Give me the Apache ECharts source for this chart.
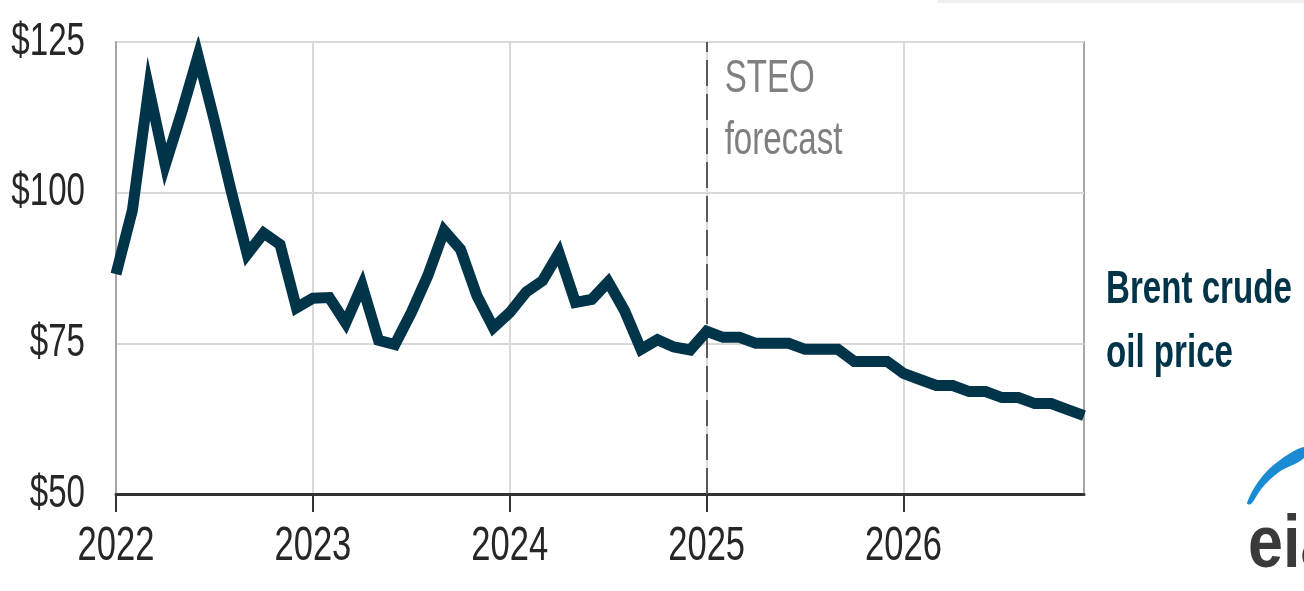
<!DOCTYPE html>
<html>
<head>
<meta charset="utf-8">
<script src="https://cdn.jsdelivr.net/npm/echarts@6/dist/echarts.min.js"></script>
<style>
  html, body { margin: 0; padding: 0; background: #ffffff; }
  #chart { width: 1304px; height: 591px; }
</style>
</head>
<body>
<div id="chart"></div>
<script>
// Monthly Brent crude oil spot price, $ per barrel
const years = ['2022', '2023', '2024', '2025', '2026'];
const history = [
  86.5, 97.1, 117.3, 104.6, 113.3, 122.7, 111.9, 100.5, 89.8, 93.3, 91.4, 80.9,
  82.5, 82.6, 78.4, 84.6, 75.5, 74.8, 80.1, 86.2, 93.7, 90.6, 82.9, 77.6,
  80.1, 83.5, 85.4, 90.0, 81.8, 82.3, 85.2, 80.4, 74.0, 75.6, 74.4, 73.9
];
// Short-Term Energy Outlook forecast months
const forecast = [
  77, 76, 76, 75, 75, 75, 74, 74, 74, 72, 72, 72,
  70, 69, 68, 68, 67, 67, 66, 66, 65, 65, 64, 63
];
const yTicks = [50, 75, 100, 125];
const forecastStart = '2025-01';

const months = [];
years.forEach(y => {
  for (let m = 1; m <= 12; m++) months.push(y + '-' + String(m).padStart(2, '0'));
});
const prices = history.concat(forecast);

const FONT = "'Liberation Sans', Arial, sans-serif";
const LINE = '#003449';
const NARROW = 0.72;   // horizontal squeeze for the condensed lettering

const chart = echarts.init(document.getElementById('chart'), null, { renderer: 'canvas' });

const isJan = (i) => i % 12 === 0;

chart.setOption({
  animation: false,
  backgroundColor: '#ffffff',
  grid: {
    left: 116, right: 220, top: 42, bottom: 97,
    containLabel: false, outerBoundsMode: 'none',
    show: true, borderColor: '#a6a6a6', borderWidth: 2, backgroundColor: 'transparent'
  },
  xAxis: {
    type: 'category',
    data: months,
    boundaryGap: false,
    axisLine: { lineStyle: { color: '#333333', width: 3 } },
    axisTick: { show: true, interval: isJan, length: 18, lineStyle: { color: '#333333', width: 2 } },
    axisLabel: { show: false },
    splitLine: { show: true, interval: isJan, lineStyle: { color: '#d9d9d9', width: 2 } }
  },
  yAxis: {
    type: 'value',
    min: 50, max: 125, interval: 25,
    axisLine: { show: true, lineStyle: { color: '#a6a6a6', width: 2 } },
    axisTick: { show: false },
    axisLabel: { show: false },
    splitLine: { lineStyle: { color: '#d9d9d9', width: 2 } }
  },
  series: [{
    type: 'line',
    data: prices,
    symbol: 'none',
    lineStyle: { color: LINE, width: 11, join: 'miter' },
    markLine: {
      silent: true,
      symbol: 'none',
      label: { show: false },
      lineStyle: { color: '#595959', width: 2, type: [26, 8] },
      data: [{ xAxis: forecastStart }]
    },
    z: 5
  }]
});

// Condensed tick labels and annotations, placed through the axis scales
const px = (cat) => chart.convertToPixel({ xAxisIndex: 0 }, cat);
const py = (v) => chart.convertToPixel({ yAxisIndex: 0 }, v);
const axisLeft = px(months[0]);
const axisBottom = py(50);

const squeezed = (x, y, text, font, fill, align, vAlign, extra, sx) => ({
  type: 'text', x: x, y: y, scaleX: sx || NARROW, originX: 0, originY: 0, silent: true,
  style: Object.assign({ x: 0, y: 0, text: text, font: font, fill: fill, align: align, verticalAlign: vAlign }, extra || {})
});

const graphics = [];
yTicks.forEach(v => {
  graphics.push(squeezed(axisLeft - 31, py(v), '$' + v, '46px ' + FONT, '#262626', 'right', 'middle'));
});
years.forEach(y => {
  graphics.push(squeezed(px(y + '-01'), axisBottom + 53, y, '48px ' + FONT, '#262626', 'center', 'middle'));
});
graphics.push(squeezed(px(forecastStart) + 18, py(125) + 6, 'STEO\nforecast', '46px ' + FONT, '#7f7f7f', 'left', 'top', { lineHeight: 62 }));
graphics.push(squeezed(1106, 258, 'Brent crude\noil price', 'bold 46px ' + FONT, LINE, 'left', 'top', { lineHeight: 64 }));

// faint strip along the top edge
graphics.push({ type: 'rect', silent: true, shape: { x: 938, y: 0, width: 366, height: 3 }, style: { fill: '#eeeeee' } });
// eia mark
graphics.push({
  type: 'polygon', silent: true,
  shape: { smooth: 0.35, points: [[1247, 503], [1258, 482], [1276, 463], [1304, 447], [1304, 458], [1279, 472], [1262, 488], [1251, 504]] },
  style: { fill: '#1a8bd3' }
});
graphics.push(squeezed(1248, 584, 'eia', 'bold 74px ' + FONT, '#3a3a3a', 'left', 'bottom', null, 0.85));

chart.setOption({ graphic: graphics });
</script>
</body>
</html>
